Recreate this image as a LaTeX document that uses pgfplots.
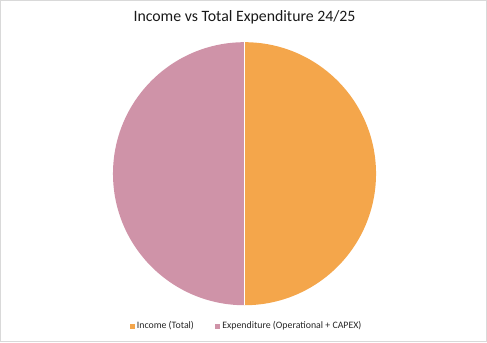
\documentclass[border=0pt]{standalone}
\usepackage{pgfplots}
\usepackage{pgfplotstable}
\pgfplotsset{compat=1.18}
\usepackage{fontspec}
\setmainfont{Carlito}
\definecolor{incomec}{HTML}{F4A64B}
\definecolor{expc}{HTML}{CF93A8}
\definecolor{bordc}{HTML}{D9D9D9}
\pgfplotstableread{
label value
Income 50
Expenditure 50
}\piedata
\begin{document}
\begin{tikzpicture}
\pgfplotstablegetelem{0}{value}\of\piedata \let\vA\pgfplotsretval
\pgfplotstablegetelem{1}{value}\of\piedata \let\vB\pgfplotsretval
\pgfmathsetmacro{\fracA}{\vA/(\vA+\vB)}
\pgfmathsetmacro{\angA}{90-360*\fracA}
\begin{axis}[
  width=365.25pt, height=257.25pt, scale only axis,
  xmin=0, xmax=487, ymin=0, ymax=343,
  hide axis, clip=false,
  title={Income vs Total Expenditure 24/25},
  title style={at={(axis cs:243.5,318)}, anchor=center, font=\fontsize{11.8}{14}\selectfont, text=black!90},
  legend columns=2,
  legend style={at={(axis cs:246,18)}, anchor=center, draw=none, fill=none,
    font=\fontsize{7.35}{9}\selectfont, text=black!85,
    /tikz/every even column/.append style={column sep=14pt}},
  legend cell align=left,
]
\draw[bordc, line width=0.8pt] (axis cs:0.5,2.5) rectangle (axis cs:484.5,342.5);
\fill[incomec] (axis cs:243.5,170) -- ++(90:98.25pt) arc[start angle=90, end angle=\angA, radius=98.25pt] -- cycle;
\fill[expc] (axis cs:243.5,170) -- ++(\angA:98.25pt) arc[start angle=\angA, end angle=-270, radius=98.25pt] -- cycle;
\draw[white, line width=1pt] (axis cs:243.5,170) -- ++(90:98.25pt);
\draw[white, line width=1pt] (axis cs:243.5,170) -- ++(\angA:98.25pt);
\addlegendimage{only marks, mark=square*, mark size=1.6pt, color=incomec}
\addlegendentry{Income (Total)}
\addlegendimage{only marks, mark=square*, mark size=1.6pt, color=expc}
\addlegendentry{Expenditure (Operational + CAPEX)}
\end{axis}
\end{tikzpicture}
\end{document}
